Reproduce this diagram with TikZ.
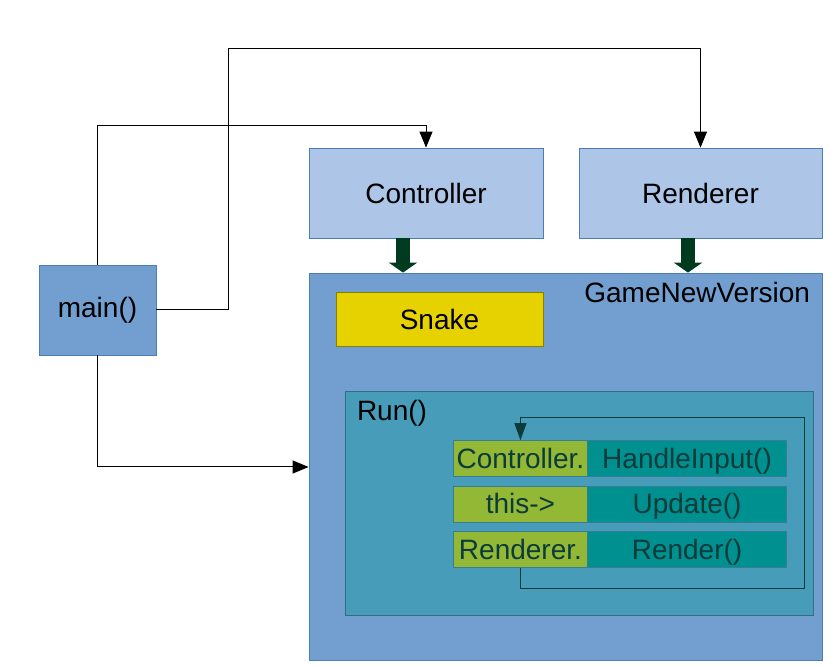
\documentclass[tikz,border=0pt]{standalone}
\usepackage{fontspec}
\setmainfont{Liberation Sans}
\usetikzlibrary{matrix,positioning,arrows.meta}

\definecolor{mainblue}{HTML}{729FCF}
\definecolor{lightblue}{HTML}{ADC5E7}
\definecolor{edgeblue}{HTML}{4A7EBB}
\definecolor{snakeyellow}{HTML}{E6D200}
\definecolor{runblue}{HTML}{479CB9}
\definecolor{callgreen}{HTML}{92B836}
\definecolor{callteal}{HTML}{00908F}
\definecolor{darkteal}{HTML}{0B3B3B}
\definecolor{blockgreen}{HTML}{003A1F}

\tikzset{
  box/.style={draw=edgeblue, line width=0.8pt, inner sep=0pt, font=\fontsize{28}{33}\selectfont},
  link/.style={line width=1pt, -{Triangle[length=16pt,width=13pt]}},
  feed/.style={line width=14pt, blockgreen, -{Triangle[length=10pt,width=28pt]}}
}

\begin{document}
\begin{tikzpicture}[x=1pt,y=-1pt]
  \useasboundingbox (0,0) rectangle (839,668);
  % boxes
  \node[box, fill=mainblue, minimum width=117pt, minimum height=90pt] (main) at (97.5,310) {main()};
  \node[box, fill=lightblue, minimum width=234pt, minimum height=90pt] (ctrl) at (426,193) {Controller};
  \node[box, fill=lightblue, minimum width=243pt, minimum height=90pt] (rend) at (700.5,193) {Renderer};
  \node[box, fill=mainblue, minimum width=513pt, minimum height=387pt] (game) at (565.5,466.5) {};
  \node[box, anchor=north east, draw=none, inner sep=0pt] (gametxt) at ([xshift=-12pt,yshift=-9pt]game.north east) {GameNewVersion};
  \node[box, fill=snakeyellow, draw=snakeyellow!60!black, minimum width=207pt, minimum height=54pt] (snake) at (439.5,319) {Snake};
  \node[box, fill=runblue, draw=runblue!70!black, minimum width=468pt, minimum height=224pt] (run) at (579,503) {};
  \node[box, anchor=north west, draw=none] (runtxt) at ([xshift=12pt,yshift=-9pt]run.north west) {Run()};

  \matrix (calls)[matrix of nodes, anchor=north west, inner sep=0pt, row sep=9pt, column sep=-\pgflinewidth,
    nodes={inner sep=0pt, minimum height=36pt, text height=23pt, text depth=3pt, text=darkteal,
      font=\fontsize{28}{33}\selectfont, draw=runblue!80!black, line width=0.5pt},
    column 1/.style={nodes={fill=callgreen, minimum width=134pt}},
    column 2/.style={nodes={fill=callteal, minimum width=199pt}}] at (453,440)
  {Controller. & HandleInput() \\
   this-> & Update() \\
   Renderer. & Render() \\};

  % loop round the calls
  \coordinate (looptop) at (804,418);
  \coordinate (loopbot) at (804,588);
  \draw[darkteal, line width=1pt, -{Triangle[length=17pt,width=12pt]}] (calls-3-1.south) |- (loopbot) -- (looptop) -| (calls-1-1.north);

  % main() connectors
  \draw[link] (main.north) |- ++(0,-139) -| (ctrl.north);
  \draw[link] (main.east) -- ++(72,0) |- ++(0,-261) -| (rend.north);
  \draw[link] (main.south) |- (main.south |- 0,467) -- (game.west |- 0,467);

  % block arrows into the game
  \draw[feed] ([xshift=-23pt]ctrl.south) -- ([xshift=-23pt]ctrl.south |- game.north);
  \draw[feed] ([xshift=-12.5pt]rend.south) -- ([xshift=-12.5pt]rend.south |- game.north);
\end{tikzpicture}
\end{document}
